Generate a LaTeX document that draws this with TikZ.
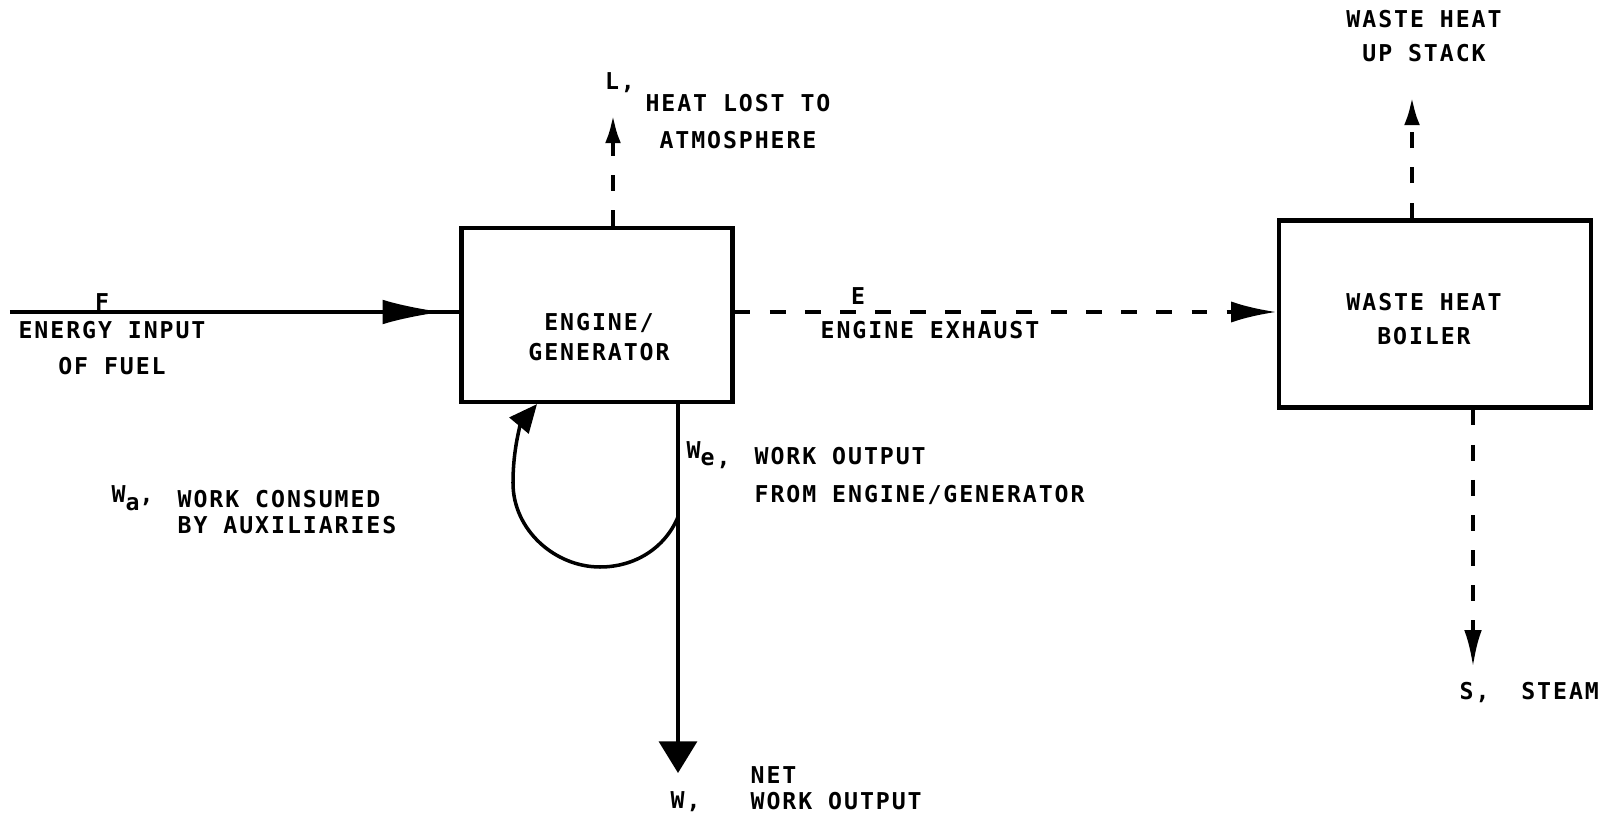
\documentclass[tikz,border=0pt]{standalone}
\usepackage{fontspec}
\newfontfamily\lettering{DejaVu Sans Mono}[LetterSpace=8.3]
\usetikzlibrary{arrows.meta, decorations.markings}

\begin{document}
\begin{tikzpicture}[x=0.1mm, y=0.1mm,
	>={Latex[length=8pt,width=4.5pt]},   %Pfeilspitzen
	txt/.style={font=\lettering\bfseries\fontsize{6.6}{7.5}\selectfont, inner sep=0pt},
	unit/.style={draw, line width=1.2pt, inner sep=0pt},
	loss/.style={line width=1.2pt, dash pattern=on 4.5pt off 5.5pt},
	work/.style={line width=1pt}]
	% Bildbereich
	\useasboundingbox (0,0) rectangle (1605,824);
	% Kaesten
	\node[unit, minimum width=2.71cm, minimum height=1.74cm] (eng) at (597,509) {};
	\node[unit, minimum width=3.12cm, minimum height=1.87cm] (whb) at (1435,510) {};
	\node[txt, align=center] (engtxt) at (599,487) {ENGINE/\\[1pt]GENERATOR};
	\node[txt, align=center] (whbtxt) at (1424,505) {WASTE HEAT\\[2.2pt]BOILER};
	% Endpunkte
	\coordinate (fin) at (10,512);
	\coordinate (ltip) at (613,709);
	\coordinate (stip) at (1412,727);
	\coordinate (dtip) at (1473,157);
	\coordinate (wtip) at (678,51);
	\coordinate (tap) at (678,307);
	\coordinate (wa) at (537,0);
	% Brennstoff
	\draw[work, postaction={decorate, decoration={markings,
		mark=at position 0.962 with {\arrow{Latex[length=17pt,width=7pt]}}}}] (fin) -- (eng.west |- fin);
	% Verluste und Abgas
	\draw[loss, ->] (eng.north -| ltip) -- (ltip);
	\draw[loss, -{Latex[length=13pt,width=6pt]}] (eng.east |- fin) -- (whb.west |- fin);
	\draw[loss, ->] (whb.north -| stip) -- (stip);
	\draw[loss, -{Latex[length=10.5pt,width=5pt]}] (whb.south -| dtip) -- (dtip);
	% Arbeit
	\draw[work, -{Triangle[length=9pt,width=10.8pt]}] (eng.south -| wtip) -- (wtip);
	\draw[work, -{Triangle[length=8pt,width=7pt]}] (tap) .. controls (665,276) and (635,257) .. (600,257)
		.. controls (555,257) and (513,294) .. (513,341)
		.. controls (513,379) and (522,402) .. (eng.south -| wa);
	% Beschriftung
	\node[txt] (flab) at (102,522) {F};
	\node[txt, align=center] (fdesc) at (112,476) {ENERGY INPUT\\[2.7pt]OF FUEL};
	\node[txt] (llab) at (620,741) {L,};
	\node[txt, align=center] (ldesc) at (738,702) {HEAT LOST TO\\[3pt]ATMOSPHERE};
	\node[txt] (elab) at (858,528) {E};
	\node[txt] (edesc) at (930,494) {ENGINE EXHAUST};
	\node[txt, align=center] (sdesc) at (1424,788) {WASTE HEAT\\[2.2pt]UP STACK};
	\node[txt, anchor=west] (slab) at (1459,131) {S,~~STEAM};
	\node[txt, anchor=west] (walab) at (111,326) {W\raisebox{-2.3pt}{a},};
	\node[txt, anchor=west, align=left] (wadesc) at (177,312) {WORK CONSUMED\\BY AUXILIARIES};
	\node[txt, anchor=west] (welab) at (686,369) {\raisebox{2pt}{W}e,};
	\node[txt, anchor=west, align=left] (wedesc) at (754,348) {WORK OUTPUT\\[3.3pt]FROM ENGINE/GENERATOR};
	\node[txt, anchor=west] (wlab) at (670,22) {W,};
	\node[txt, anchor=west, align=left] (wdesc) at (750,36) {NET\\WORK OUTPUT};
\end{tikzpicture}
\end{document}
